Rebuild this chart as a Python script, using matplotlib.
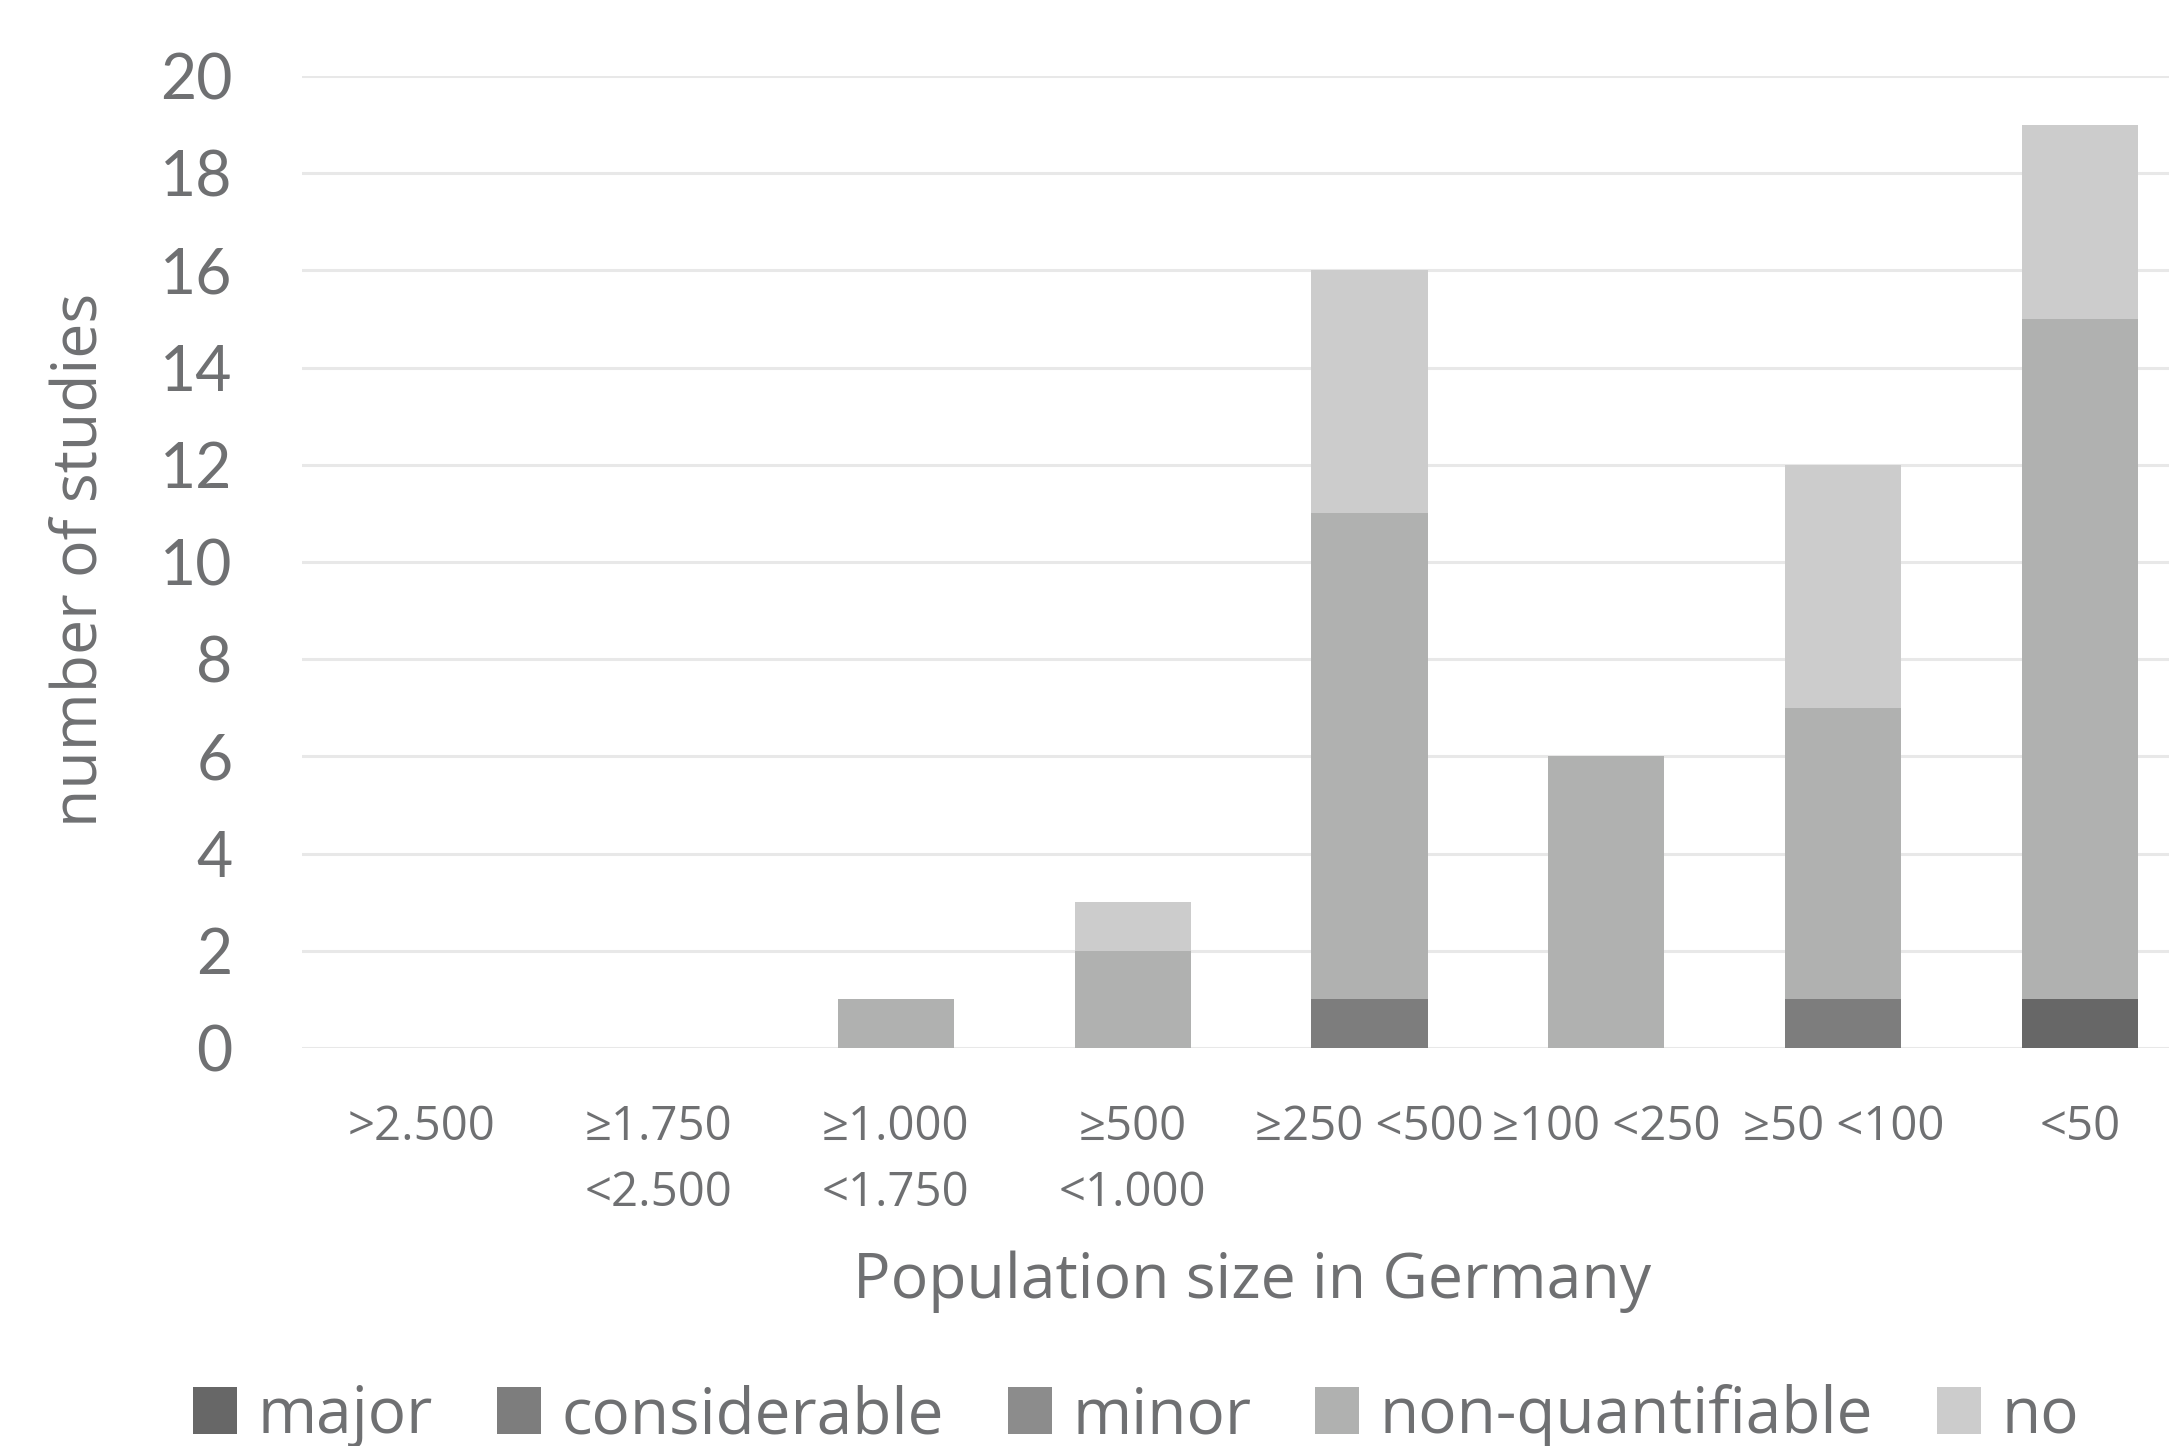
import numpy as np
import matplotlib
matplotlib.use("Agg")
import matplotlib.pyplot as plt
from matplotlib.patches import Patch

plt.rcParams['font.family'] = ['Open Sans', 'DejaVu Sans']

categories = [">2.500", "≥1.750\n<2.500", "≥1.000\n<1.750", "≥500\n<1.000",
              "≥250 <500", "≥100 <250", "≥50 <100", "<50"]
major = [0, 0, 0, 0, 0, 0, 0, 1]
considerable = [0, 0, 0, 0, 1, 0, 1, 0]
minor = [0, 0, 0, 0, 0, 0, 0, 0]
non_quantifiable = [0, 0, 1, 2, 10, 6, 6, 14]
no = [0, 0, 0, 1, 5, 0, 5, 4]

series = [("major", major, "#676767"),
          ("considerable", considerable, "#7d7d7d"),
          ("minor", minor, "#8c8c8c"),
          ("non-quantifiable", non_quantifiable, "#b0b1b0"),
          ("no", no, "#cccccc")]
yticks = [0, 2, 4, 6, 8, 10, 12, 14, 16, 18, 20]

txt = "#6f7072"

fig = plt.figure(figsize=(21.69, 14.46), dpi=100)
ax = fig.add_axes([302 / 2169, 1 - 1048 / 1446, 1 - 302 / 2169, (1048 - 76) / 1446])

# stacked bars, bottom category first
x = np.arange(len(categories))
bottom = np.zeros(len(categories))
handles = []
for name, vals, col in series:
    vals = np.array(vals, dtype=float)
    ax.bar(x, vals, width=0.49, bottom=bottom, color=col, edgecolor="none", zorder=3)
    bottom += vals
    handles.append(Patch(facecolor=col, edgecolor="none", label=name))

ax.set_xlim(-0.506, 7.375)
ax.set_ylim(0, 20)
ax.set_yticks(yticks)
ax.set_xticks(x)
ax.set_xticklabels(categories, linespacing=1.5)
ax.grid(axis="y", color="#e8e8e8", linewidth=2.2, zorder=0)
ax.set_axisbelow(True)
for s in ax.spines.values():
    s.set_visible(False)
ax.tick_params(axis="y", length=0, pad=50, labelsize=45, labelcolor=txt)
ax.tick_params(axis="x", length=0, pad=40, labelsize=34, labelcolor=txt)
for lab in ax.get_yticklabels():
    lab.set_family(["Lato", "DejaVu Sans"])

fig.text(80 / 2169, 1 - 560 / 1446, "number of studies", rotation=90,
         ha="center", va="center", fontsize=45, color=txt)
fig.text(1252 / 2169, 1 - 1282 / 1446, "Population size in Germany",
         ha="center", va="center", fontsize=45, color=txt)

fig.legend(handles=handles, loc="center", bbox_to_anchor=(1136 / 2169, 1 - 1416 / 1446),
           ncol=5, frameon=False, fontsize=46, labelcolor=txt,
           handlelength=0.69, handleheight=0.76, handletextpad=0.32, columnspacing=1.0)

fig.savefig("out.png", dpi=100)
